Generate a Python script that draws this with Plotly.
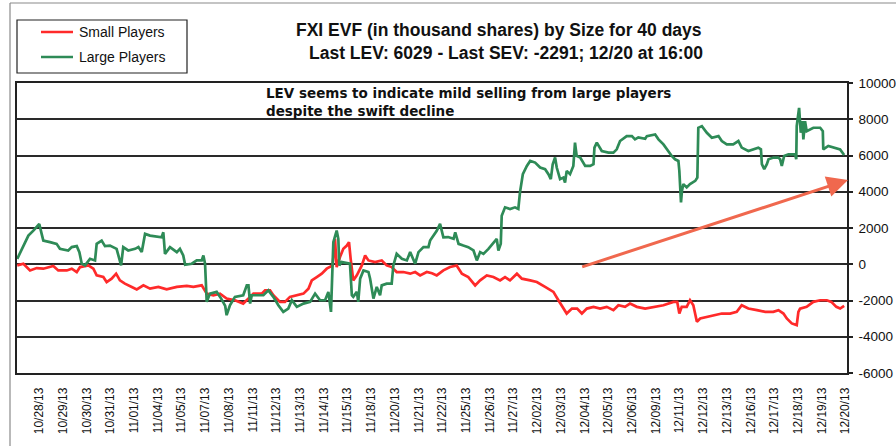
import plotly.graph_objects as go

# ---------------- data ----------------
dates = ["10/28/13", "10/29/13", "10/30/13", "10/31/13", "11/01/13", "11/04/13", "11/05/13",
         "11/07/13", "11/08/13", "11/11/13", "11/12/13", "11/13/13", "11/14/13", "11/15/13",
         "11/18/13", "11/20/13", "11/21/13", "11/22/13", "11/25/13", "11/26/13", "11/27/13",
         "12/02/13", "12/03/13", "12/04/13", "12/05/13", "12/06/13", "12/09/13", "12/11/13",
         "12/12/13", "12/13/13", "12/16/13", "12/17/13", "12/18/13", "12/19/13", "12/20/13"]

y_ticks = [-6000, -4000, -2000, 0, 2000, 4000, 6000, 8000, 10000]

series_names = ["Small Players", "Large Players"]

# time in trading-day units (day index + fraction of the day)
large_t = [0.01, 0.34, 0.48, 0.69, 0.94, 1.04, 1.11, 1.39, 1.67, 1.81, 2.16, 2.31, 2.52, 2.63, 2.73,
           2.87, 3.08, 3.29, 3.36, 3.57, 3.71, 3.92, 4.20, 4.39, 4.48, 4.69, 4.98, 5.12, 5.26, 5.40,
           5.61, 6.10, 6.17, 6.24, 6.45, 6.74, 6.87, 7.01, 7.09, 7.37, 7.58, 7.79, 7.86, 7.93, 8.00,
           8.14, 8.42, 8.61, 8.78, 8.84, 8.98, 9.19, 9.54, 9.69, 9.76, 9.83, 9.90, 10.39, 10.60, 10.81,
           11.02, 11.23, 11.44, 11.59, 11.80, 12.08, 12.36, 12.57, 12.78, 12.99, 13.13, 13.24, 13.29,
           13.34, 13.48, 13.55, 13.59, 13.69, 14.04, 14.12, 14.18, 14.33, 14.39, 14.47, 14.61, 14.82,
           14.89, 15.03, 15.17, 15.31, 15.38, 15.59, 15.80, 15.87, 16.01, 16.23, 16.44, 16.58, 16.79,
           16.93, 17.14, 17.35, 17.42, 17.56, 17.70, 17.84, 17.98, 18.18, 18.41, 18.48, 18.62, 18.82,
           19.03, 19.25, 19.39, 19.53, 19.67, 19.88, 20.09, 20.23, 20.30, 20.40, 20.44, 20.58, 20.79,
           21.00, 21.14, 21.21, 21.33, 21.50, 21.64, 21.85, 22.06, 22.27, 22.41, 22.51, 22.59, 22.69,
           22.76, 22.90, 23.04, 23.11, 23.18, 23.32, 23.46, 23.53, 23.60, 23.75, 23.96, 24.17, 24.31,
           24.35, 24.45, 24.66, 24.94, 25.15, 25.29, 25.43, 25.71, 25.93, 26.06, 26.20, 26.49, 26.56,
           26.91, 27.05, 27.26, 27.40, 27.61, 27.75, 27.89, 27.93, 28.00, 28.04, 28.10, 28.24, 28.38,
           28.60, 28.69, 28.73, 28.88, 29.09, 29.30, 29.58, 29.72, 29.93, 30.20, 30.42, 30.56, 30.84,
           31.05, 31.26, 31.37, 31.41, 31.51, 31.62, 31.69, 31.90, 32.10, 32.18, 32.25, 32.35, 32.53,
           32.81, 32.86, 32.88, 32.98, 33.05, 33.12, 33.16, 33.23, 33.30, 33.58, 33.87, 33.98, 34.00,
           34.21, 34.42, 34.71, 34.88]
large_v = [300, 1220, 1580, 1855, 2220, 1675, 1300, 1220, 1125, 850, 760, 945, 1000, 670, 30,
           -65, 300, 210, 1125, 1305, 1000, 1030, 850, -65, 945, 760, 850, 945, 670, 1675,
           1580, 1490, 1765, 575, 945, 670, 850, 485, -30, 30, 210, 210, 485, 30, -2075,
           -1620, -1525, -1895, -2300, -2810, -2260, -1800, -1710, -1165, -1165, -2170, -1710, -1710, -1440, -1800,
           -2260, -2625, -2445, -1985, -2350, -2170, -2075, -1620, -1985, -1985, -1525, -2625, -245,
           1220, 1855, 1400, -65, 120, 30, -1710, -1800, -1525, -2075, -795, -340, -430,
           -795, -1895, -1250, -1710, -1165, -1070, -1070, -65, 575, 300, 210, 670, 30,
           670, 945, 945, 1305, 1580, 1850, 2225, 1490, 1500, 1400, 1765, 1125, 1030,
           945, 760, 210, 670, 575, 850, 1220, 1400, 760, 1125, 2680, 3140, 3050,
           3140, 3050, 3965, 4970, 5425, 5700, 5610, 5335, 5245, 4970, 4695, 5520, 5885,
           5335, 4695, 4785, 4510, 5150, 4970, 5425, 6710, 5975, 5885, 5425, 5425, 5520,
           6435, 6710, 6250, 6160, 6160, 6340, 6800, 7070, 7070, 6890, 7000, 6925, 7070,
           7160, 6890, 6615, 6340, 5975, 5790, 5700, 5150, 3415, 4050, 4420, 4240, 4420,
           4600, 4785, 7530, 7620, 7255, 6980, 7070, 6800, 6615, 6615, 6800, 6435, 6250,
           6340, 6435, 6340, 5520, 5245, 5520, 5790, 5885, 5885, 5790, 5425, 5975, 6065,
           6065, 5790, 7620, 8630, 7255, 7895, 6890, 7895, 7345, 7530, 7530, 7345, 6340,
           6525, 6435, 6340, 6029]

small_t = [0.01, 0.27, 0.55, 0.83, 1.11, 1.53, 1.74, 2.10, 2.31, 2.52, 2.66, 3.01, 3.22, 3.36, 3.64,
           3.78, 3.99, 4.18, 4.34, 4.55, 4.84, 5.05, 5.33, 5.61, 5.96, 6.31, 6.74, 7.16, 7.44, 7.79,
           8.00, 8.28, 8.56, 8.84, 9.19, 9.54, 9.83, 9.97, 10.32, 10.46, 10.67, 10.81, 11.09, 11.30,
           11.51, 11.80, 12.08, 12.29, 12.43, 12.64, 12.85, 13.06, 13.20, 13.31, 13.41, 13.48, 13.62,
           13.76, 13.91, 14.00, 14.07, 14.18, 14.33, 14.54, 14.68, 14.82, 15.10, 15.38, 15.59, 15.80,
           16.01, 16.29, 16.58, 16.79, 17.00, 17.28, 17.50, 17.70, 17.98, 18.26, 18.54, 18.76, 19.03,
           19.32, 19.53, 19.81, 20.09, 20.37, 20.58, 20.79, 21.08, 21.29, 21.64, 21.92, 22.27, 22.62,
           22.83, 23.04, 23.18, 23.40, 23.62, 23.82, 24.03, 24.31, 24.59, 24.87, 25.15, 25.36, 25.64,
           25.85, 26.14, 26.49, 26.84, 27.26, 27.68, 27.84, 27.93, 28.03, 28.24, 28.38, 28.52, 28.67,
           28.81, 29.09, 29.37, 29.72, 30.07, 30.35, 30.56, 30.84, 31.20, 31.55, 31.89, 32.11, 32.32,
           32.46, 32.67, 32.88, 32.95, 33.02, 33.30, 33.58, 33.87, 34.15, 34.34, 34.55, 34.71, 34.88]
small_v = [-65, 30, -340, -210, -245, -100, -340, -340, -245, -430, -155, -65, -245, -615, -705,
           -980, -795, -520, -890, -1070, -1250, -1385, -1165, -1345, -1250, -1385, -1250, -1195, -1250, -1165,
           -1620, -1710, -1620, -1895, -1985, -2170, -1800, -1620, -1620, -1440, -1440, -1710, -2075, -2075,
           -1800, -1710, -1620, -1345, -890, -705, -520, -245, -155, -65, 1400, -155, 395,
           850, 1030, 1220, 300, -890, -615, -65, 485, 210, 120, 210, -65, -155,
           -430, -430, -520, -430, -615, -430, -500, -615, -340, -155, -65, -520, -705,
           -1165, -890, -615, -705, -890, -705, -890, -520, -795, -890, -980, -1250, -1525,
           -1985, -2445, -2720, -2445, -2445, -2720, -2445, -2350, -2445, -2350, -2535, -2260, -2350,
           -2170, -2350, -2445, -2350, -2260, -2075, -2075, -2720, -2350, -2350, -1985, -2260, -3175,
           -2990, -2900, -2810, -2720, -2720, -2625, -2260, -2445, -2535, -2625, -2625, -2535, -2720,
           -2990, -3265, -3360, -2625, -2445, -2350, -2075, -1985, -1985, -2075, -2350, -2445, -2291]

# ---------------- layout helpers (pixel -> paper) ----------------
W, H = 896, 446
L, R, T, B = 17, 847, 83, 373


def xp(px):
    return (px - L) / (R - L)


def yp(py):
    return (B - py) / (B - T)


TEXT = "#111111"
FONT = "Liberation Sans"
RED = "#FF2A2A"
GREEN = "#2E8B57"

fig = go.Figure()
fig.add_trace(go.Scatter(x=small_t, y=small_v, mode="lines", name=series_names[0],
                         line=dict(color=RED, width=2.7)))
fig.add_trace(go.Scatter(x=large_t, y=large_v, mode="lines", name=series_names[1],
                         line=dict(color=GREEN, width=2.7)))

fig.update_layout(
    width=W, height=H,
    margin=dict(l=L, r=W - R, t=T, b=H - B, autoexpand=False),
    paper_bgcolor="white", plot_bgcolor="white",
    font=dict(family=FONT, color=TEXT),
    showlegend=False,
    xaxis=dict(range=[0, 35], tickmode="array", automargin=False,
               tickvals=[i + 0.94 for i in range(len(dates))], ticktext=dates,
               tickangle=-90, tickfont=dict(family=FONT, size=12, color=TEXT),
               showgrid=False, zeroline=False, ticks="",
               showline=True, linecolor="#222222", linewidth=1.5, mirror=True,
               ticklabelstandoff=8),
    yaxis=dict(side="right", range=[-6000, 10000], tickmode="array", tickvals=y_ticks,
               ticktext=[str(v) for v in y_ticks], automargin=False,
               tickfont=dict(family=FONT, size=13.5, color=TEXT),
               showgrid=True, gridcolor="#2a2a2a", gridwidth=1.5, zeroline=False,
               showline=True, linecolor="#222222", linewidth=1.5, mirror=True,
               ticks="outside", ticklen=4, tickcolor="#222222", tickwidth=1.5,
               ticklabelstandoff=3),
)

shapes = [
    # legend box
    dict(type="rect", xref="paper", yref="paper", x0=xp(17), x1=xp(187), y0=yp(73), y1=yp(20),
         line=dict(color="#222222", width=1.2), fillcolor="rgba(0,0,0,0)"),
    # legend line samples
    dict(type="line", xref="paper", yref="paper", x0=xp(41), x1=xp(73), y0=yp(32), y1=yp(32),
         line=dict(color=RED, width=2.5)),
    dict(type="line", xref="paper", yref="paper", x0=xp(41), x1=xp(73), y0=yp(57), y1=yp(57),
         line=dict(color=GREEN, width=2.5)),
    # outer chart frame (left and top edges)
    dict(type="line", xref="paper", yref="paper", x0=xp(10), x1=xp(10), y0=yp(446), y1=yp(3),
         line=dict(color="#8a8a8a", width=1.2)),
    dict(type="line", xref="paper", yref="paper", x0=xp(10), x1=xp(896), y0=yp(3), y1=yp(3),
         line=dict(color="#8a8a8a", width=1.2)),
]
fig.update_layout(shapes=shapes)

annotations = [
    dict(text=series_names[0], xref="paper", yref="paper", x=xp(77), y=yp(32),
         xanchor="left", yanchor="middle", showarrow=False,
         font=dict(family=FONT, size=14, color=TEXT)),
    dict(text=series_names[1], xref="paper", yref="paper", x=xp(77), y=yp(57),
         xanchor="left", yanchor="middle", showarrow=False,
         font=dict(family=FONT, size=14, color=TEXT)),
    dict(text="<b>FXI EVF (in thousand shares) by Size for 40 days</b>",
         xref="paper", yref="paper", x=xp(704), y=yp(30), xanchor="right", yanchor="middle",
         showarrow=False, font=dict(family=FONT, size=17.5, color=TEXT)),
    dict(text="<b>Last LEV: 6029 - Last SEV: -2291; 12/20 at 16:00</b>",
         xref="paper", yref="paper", x=xp(705), y=yp(53), xanchor="right", yanchor="middle",
         showarrow=False, font=dict(family=FONT, size=17.5, color=TEXT)),
    dict(text="<b>LEV seems to indicate mild selling from large players<br>despite the swift decline</b>",
         xref="paper", yref="paper", x=xp(264), y=yp(102), xanchor="left", yanchor="middle",
         align="left", showarrow=False, font=dict(family="DejaVu Sans", size=13.5, color=TEXT)),
    # orange arrow
    dict(text="", xref="paper", yref="paper", x=xp(848), y=yp(180), ax=580.7 - 848, ay=267.3 - 180,
         showarrow=True, arrowhead=2, arrowsize=1.4, arrowwidth=3, arrowcolor="#F0684E"),
]
fig.update_layout(annotations=annotations)

fig.write_html("out.html", config={"displayModeBar": False},
               post_script="document.body.style.margin='0';document.body.style.padding='0';")
